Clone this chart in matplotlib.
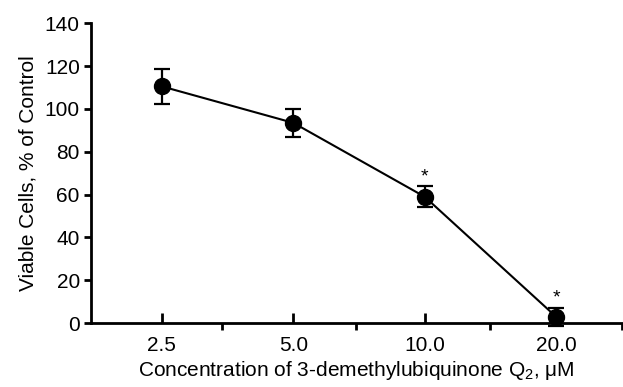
import numpy as np
import matplotlib.pyplot as plt
from matplotlib.ticker import FixedLocator

plt.rcParams['font.family'] = ['Liberation Sans', 'DejaVu Sans']
plt.rcParams['mathtext.fontset'] = 'custom'
plt.rcParams['mathtext.rm'] = 'Liberation Sans'
plt.rcParams['mathtext.it'] = 'Liberation Sans'

# dados
conc_labels = ['2.5', '5.0', '10.0', '20.0']
viable = [110.5, 93.5, 59.0, 3.0]
erro = [8.3, 6.6, 5.0, 4.3]
signif = [False, False, True, True]

fig = plt.figure(figsize=(6.23, 3.87), dpi=100)
ax = fig.add_axes([0.146, 0.165, 0.852, 0.775])

x = np.arange(len(conc_labels))
ax.errorbar(x, viable, yerr=erro, color='black', marker='o', markersize=11.5,
            linewidth=1.5, elinewidth=1.6, capsize=6, capthick=1.6, zorder=3)

# asteriscos de significancia
for xi, v, e, s in zip(x, viable, erro, signif):
    if s:
        ax.text(xi, v + e + 0.3, '*', ha='center', va='bottom', fontsize=14)

ax.set_xlim(-0.54, 3.5)
ax.set_ylim(0, 140)
ax.set_yticks(range(0, 141, 20))
ax.set_xticks(x)
ax.set_xticklabels(conc_labels)
ax.xaxis.set_minor_locator(FixedLocator([0.46, 1.48, 2.5, 3.5]))
ax.tick_params(axis='x', which='major', direction='in', length=7, width=2, labelsize=15, pad=9)
ax.tick_params(axis='x', which='minor', direction='out', length=5, width=2)
ax.tick_params(axis='y', direction='out', length=5, width=2, labelsize=15, pad=3)

for lado in ['top', 'right']:
    ax.spines[lado].set_visible(False)
for lado in ['left', 'bottom']:
    ax.spines[lado].set_linewidth(2)

ax.set_ylabel('Viable Cells, % of Control', fontsize=15, labelpad=5)
ax.set_xlabel('Concentration of 3-demethylubiquinone Q$_{2}$, μM', fontsize=15, labelpad=3)
ax.patch.set_alpha(0)
for art in ax.get_children():
    art.set_clip_on(False)

plt.savefig('out.png', dpi=100)
